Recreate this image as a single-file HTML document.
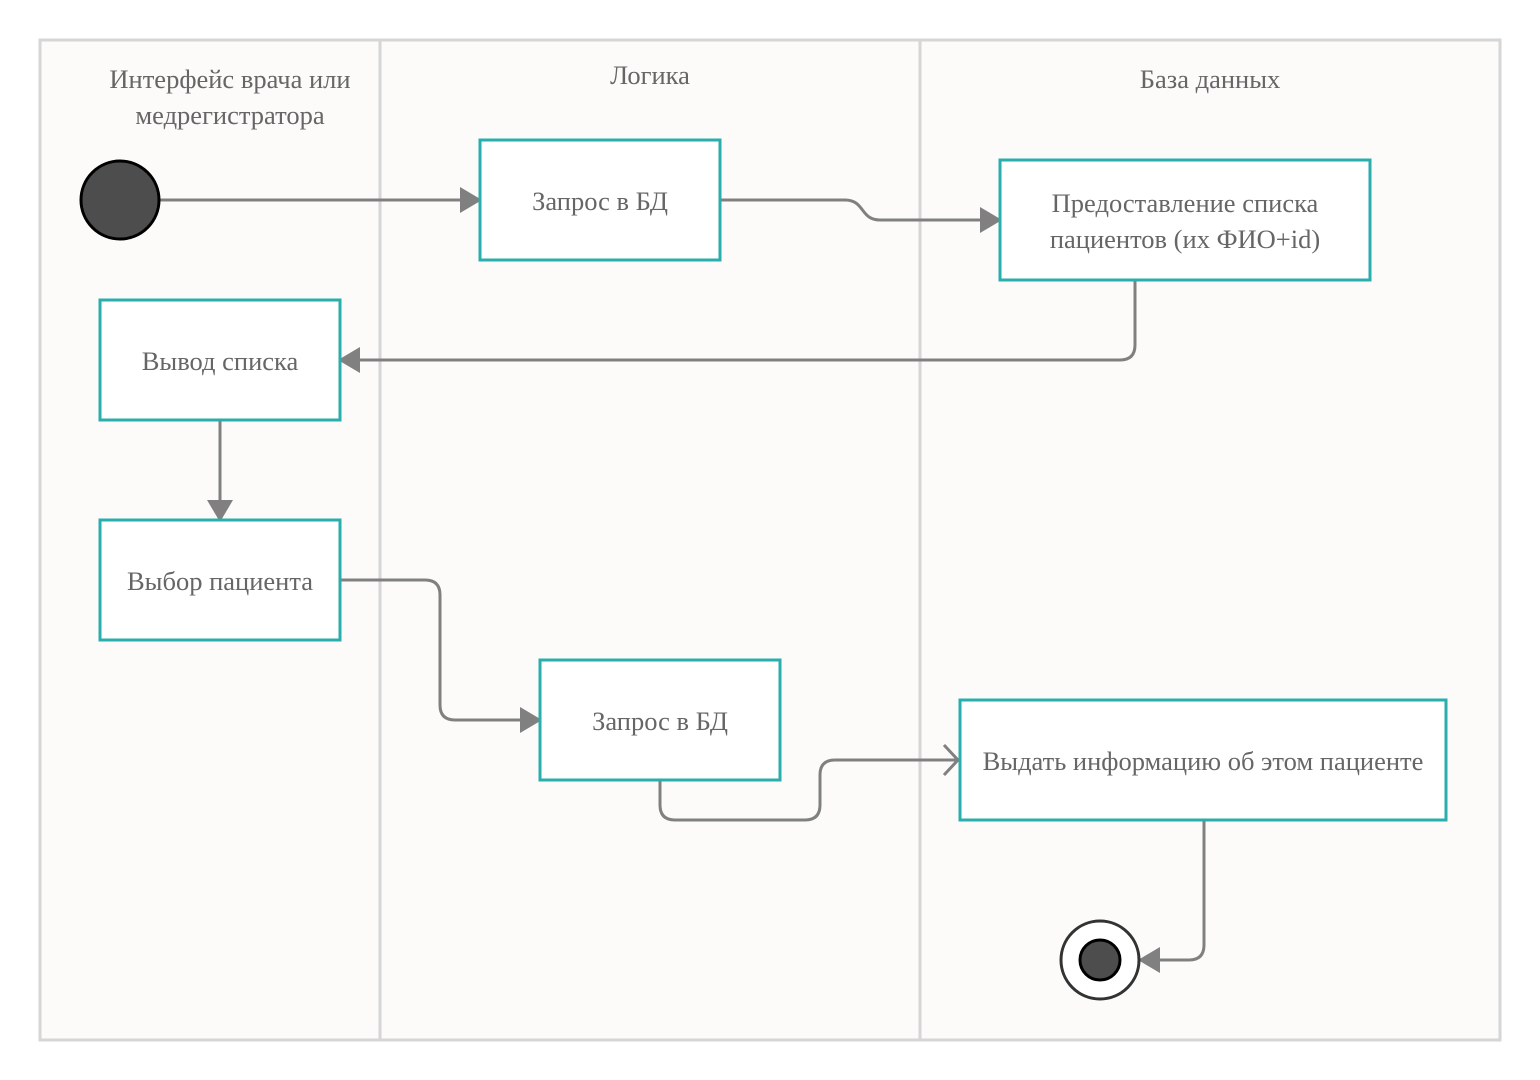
<!DOCTYPE html>
<html><head><meta charset="utf-8"><style>
html,body{margin:0;padding:0;background:#fff;}
svg{display:block;}
text{font-family:"Liberation Serif","Noto Serif CJK SC",serif;font-size:26.5px;fill:#666;}
</style></head><body>
<svg width="1540" height="1080" viewBox="0 0 1540 1080">
<rect x="0" y="0" width="1540" height="1080" fill="#fff"/>
<rect x="40" y="40" width="1460" height="1000" fill="#fcfbfa" stroke="#d6d6d6" stroke-width="3"/>
<line x1="380" y1="40" x2="380" y2="1040" stroke="#d6d6d6" stroke-width="3"/>
<line x1="920" y1="40" x2="920" y2="1040" stroke="#d6d6d6" stroke-width="3"/>
<text x="230" y="88" text-anchor="middle">Интерфейс врача или</text>
<text x="230" y="124" text-anchor="middle">медрегистратора</text>
<text x="650" y="84" text-anchor="middle">Логика</text>
<text x="1210" y="88" text-anchor="middle">База данных</text>

<g fill="none" stroke="#808080" stroke-width="3" stroke-linejoin="round">
<path d="M160 200 H465"/>
<path d="M720 200 H845 C865 200 860 220 880 220 H985"/>
<path d="M1135 280 V345 Q1135 360 1120 360 H355"/>
<path d="M220 420 V505"/>
<path d="M340 580 H425 Q440 580 440 595 V705 Q440 720 455 720 H525"/>
<path d="M660 780 V805 Q660 820 675 820 H805 Q820 820 820 805 V775 Q820 760 835 760 H958"/>
<path d="M944 745 L958 760 L944 775"/>
<path d="M1204 820 V945 Q1204 960 1189 960 H1155"/>
</g>
<g fill="#808080">
<polygon points="460,187 482,200 460,213"/>
<polygon points="980,207 1002,220 980,233"/>
<polygon points="360,347 338,360 360,373"/>
<polygon points="207,500 220,522 233,500"/>
<polygon points="520,707 542,720 520,733"/>
<polygon points="1160,947 1138,960 1160,973"/>
</g>

<g fill="#fff" stroke="#2aadad" stroke-width="3">
<rect x="480" y="140" width="240" height="120"/>
<rect x="1000" y="160" width="370" height="120"/>
<rect x="100" y="300" width="240" height="120"/>
<rect x="100" y="520" width="240" height="120"/>
<rect x="540" y="660" width="240" height="120"/>
<rect x="960" y="700" width="486" height="120"/>
</g>
<text x="600" y="210" text-anchor="middle">Запрос в БД</text>
<text x="1185" y="212" text-anchor="middle">Предоставление списка</text>
<text x="1185" y="248" text-anchor="middle">пациентов (их ФИО+id)</text>
<text x="220" y="370" text-anchor="middle">Вывод списка</text>
<text x="220" y="590" text-anchor="middle">Выбор пациента</text>
<text x="660" y="730" text-anchor="middle">Запрос в БД</text>
<text x="1203" y="770" text-anchor="middle">Выдать информацию об этом пациенте</text>

<circle cx="120" cy="200" r="39" fill="#4d4d4d" stroke="#000" stroke-width="3"/>
<circle cx="1100" cy="960" r="39" fill="#fff" stroke="#333" stroke-width="3"/>
<circle cx="1100" cy="960" r="20" fill="#4d4d4d" stroke="#000" stroke-width="3"/>
</svg>
</body></html>
